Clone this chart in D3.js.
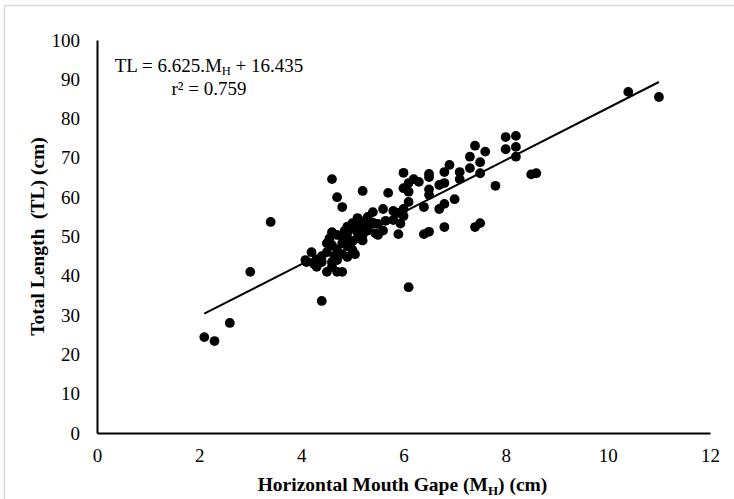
<!DOCTYPE html>
<html>
<head>
<meta charset="utf-8">
<script src="https://cdn.jsdelivr.net/npm/d3@7"></script>
<style>
  body { margin: 0; background: #fff; }
  svg, svg text { font-family: "Times New Roman", "Liberation Serif", Times, serif; }
</style>
</head>
<body>
<div id="graph"></div>
<script>
// mouth gape (cm) and total length (cm)
const gape = [
  2.1, 2.3, 2.6, 3.0, 3.4, 4.4, 6.1, 4.6, 4.7, 4.8, 5.2, 4.5, 4.7, 4.8,
  10.4, 11.0, 8.0, 8.2, 8.0, 8.2, 8.2, 8.5, 8.6, 7.8, 7.4, 7.6, 7.3, 7.5,
  7.3, 7.5, 7.1, 7.1, 6.9, 6.8, 6.5, 6.5, 6.0, 6.2, 6.3, 6.1, 6.8, 6.7,
  6.0, 6.1, 5.7, 6.5, 6.5, 6.1, 7.0, 6.8, 6.7, 6.4, 6.0, 5.9, 5.8, 5.6,
  5.4, 5.9, 6.4, 6.5, 6.8, 7.4, 7.5, 5.5, 5.8, 6.0,
  5.1, 5.0, 5.3, 5.5, 5.65, 4.6, 4.7, 4.9, 5.2, 4.5, 4.8, 5.0, 4.5, 4.2,
  4.1, 4.4, 4.6, 4.9, 4.3, 4.6, 5.2, 5.0, 5.3, 5.1, 4.9, 4.7, 4.8, 4.4,
  5.4, 5.2, 4.9, 4.8, 5.0, 4.6, 4.3, 5.3, 5.1, 4.95, 4.7, 5.45, 4.25, 5.05,
  5.6, 5.15, 4.85, 4.55, 4.65, 4.08, 5.94
];
const length = [
  24.4, 23.4, 28.0, 41.0, 53.7, 33.6, 37.1, 64.6, 60.0, 57.5, 61.6, 41.0, 41.0, 41.0,
  86.8, 85.5, 75.3, 75.6, 72.2, 72.8, 70.3, 65.8, 66.1, 62.9, 73.1, 71.6, 70.3, 68.9,
  67.4, 66.1, 66.4, 64.6, 68.2, 66.4, 65.9, 65.1, 66.2, 64.6, 63.9, 63.6, 63.6, 63.1,
  62.3, 61.4, 61.1, 62.0, 60.6, 58.8, 59.5, 58.3, 57.0, 57.5, 57.0, 56.0, 56.5, 57.0,
  56.2, 50.6, 50.6, 51.2, 52.4, 52.4, 53.4, 53.2, 54.2, 55.2,
  54.7, 53.4, 52.9, 50.4, 54.0, 51.1, 50.4, 50.9, 50.4, 48.3, 48.3, 46.6, 46.0, 46.0,
  43.5, 43.5, 43.5, 44.8, 42.3, 42.3, 49.0, 52.0, 51.5, 49.5, 47.5, 46.5, 45.5, 45.0,
  53.5, 53.8, 52.5, 49.8, 48.8, 47.8, 44.2, 55.0, 51.0, 49.0, 44.0, 50.8, 43.0, 45.5,
  51.5, 52.5, 51.5, 49.5, 45.0, 44.0, 53.3
];

// fitted line TL = 6.625 MH + 16.435, drawn over the data range
const slope = 6.625;
const intercept = 16.435;
const fitRange = [2.1, 11.0];

const xTicks = [0, 2, 4, 6, 8, 10, 12];
const yTicks = [0, 10, 20, 30, 40, 50, 60, 70, 80, 90, 100];

const W = 734, H = 499;
const margin = {top: 40, right: 24, bottom: 66, left: 97};
const serif = '"Times New Roman", "Liberation Serif", Times, serif';

const svg = d3.select('#graph').append('svg')
  .attr('width', W)
  .attr('height', H)
  .attr('font-family', serif);

// thin frame round the picture (top and left edges visible)
svg.append('rect')
  .attr('x', 4.5).attr('y', 5.5)
  .attr('width', W + 20).attr('height', H + 20)
  .attr('fill', 'none')
  .attr('stroke', '#d9d9d9')
  .attr('stroke-width', 1.5);

const x = d3.scaleLinear().domain([0, 12]).range([margin.left, W - margin.right]);
const y = d3.scaleLinear().domain([0, 100]).range([H - margin.bottom, margin.top]);

// x axis
const gx = svg.append('g')
  .attr('transform', 'translate(0,' + y(0) + ')')
  .call(d3.axisBottom(x).tickValues(xTicks).tickSize(0).tickPadding(16));

// y axis
const gy = svg.append('g')
  .attr('transform', 'translate(' + x(0) + ',0)')
  .call(d3.axisLeft(y).tickValues(yTicks).tickSize(0).tickPadding(17));

[gx, gy].forEach(g => {
  g.attr('font-family', serif).attr('font-size', 19);
  g.select('.domain').attr('stroke', '#000').attr('stroke-width', 2);
  g.selectAll('text').attr('fill', '#000');
});

// points
svg.append('g')
  .selectAll('circle')
  .data(gape.map((g, i) => [g, length[i]]))
  .join('circle')
  .attr('cx', d => x(d[0]))
  .attr('cy', d => y(d[1]))
  .attr('r', 4.9)
  .attr('fill', '#000');

// regression line
const line = d3.line()
  .x(d => x(d))
  .y(d => y(slope * d + intercept));

svg.append('path')
  .attr('d', line(fitRange))
  .attr('fill', 'none')
  .attr('stroke', '#000')
  .attr('stroke-width', 2);

// equation
const eq = svg.append('text')
  .attr('x', 209).attr('y', 72)
  .attr('text-anchor', 'middle')
  .attr('font-size', 19);
eq.append('tspan').text('TL = 6.625.M');
eq.append('tspan').attr('font-size', 12.5).attr('dy', 3).text('H');
eq.append('tspan').attr('dy', -3).text(' + 16.435');

svg.append('text')
  .attr('x', 209).attr('y', 95)
  .attr('text-anchor', 'middle')
  .attr('font-size', 19)
  .text('r² = 0.759');

// axis titles
const xt = svg.append('text')
  .attr('x', (x(0) + x(12)) / 2 - 1).attr('y', 491)
  .attr('text-anchor', 'middle')
  .attr('font-size', 19.5)
  .attr('font-weight', 'bold');
xt.append('tspan').text('Horizontal Mouth Gape (M');
xt.append('tspan').attr('font-size', 13).attr('dy', 4).text('H');
xt.append('tspan').attr('dy', -4).text(') (cm)');

svg.append('text')
  .attr('transform', 'translate(44,' + y(50) + ') rotate(-90)')
  .attr('text-anchor', 'middle')
  .attr('font-size', 19.5)
  .attr('font-weight', 'bold')
  .style('white-space', 'pre')
  .text('Total Length  (TL) (cm)');
</script>
</body>
</html>
